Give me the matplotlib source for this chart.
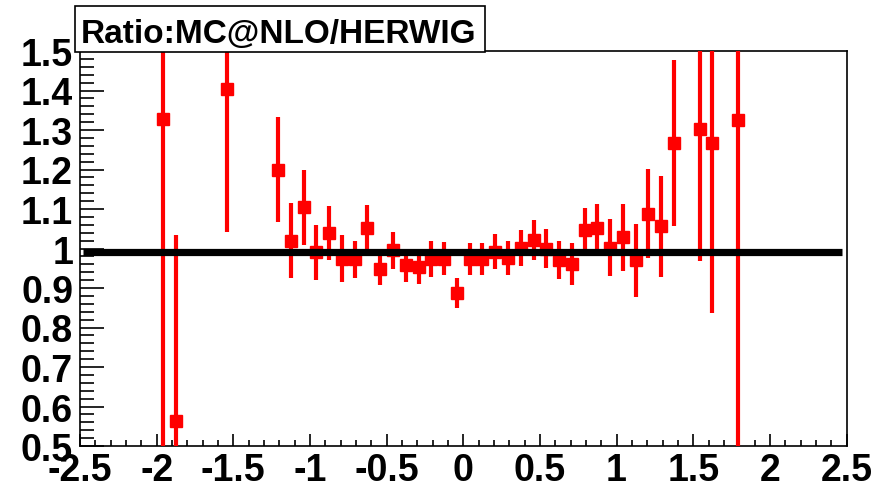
import numpy as np
import matplotlib
matplotlib.use("Agg")
import matplotlib.pyplot as plt
from matplotlib.patches import Rectangle
from matplotlib.ticker import MultipleLocator, FixedLocator

# ---- data ----
title = "Ratio:MC@NLO/HERWIG"
n_bins = 60
x_lo, x_hi = -2.5, 2.5
bin_index = [6, 7, 11, 15, 16, 17, 18, 19, 20, 21, 22, 23, 24, 25, 26, 27, 28, 29,
             30, 31, 32, 33, 34, 35, 36, 37, 38, 39, 40, 41, 42, 43, 44, 45, 46,
             48, 49, 51]
ratio = [1.328, 0.564, 1.404, 1.200, 1.020, 1.104, 0.990, 1.039, 0.974, 0.973,
         1.052, 0.948, 0.995, 0.958, 0.954, 0.974, 0.974, 0.887, 0.973, 0.973,
         0.992, 0.975, 1.001, 1.022, 1.000, 0.971, 0.960, 1.046, 1.052, 1.002,
         1.028, 0.970, 1.088, 1.056, 1.267, 1.302, 1.267, 1.326]
ratio_err = [0.95, 0.470, 0.363, 0.134, 0.095, 0.095, 0.070, 0.069, 0.060, 0.047,
             0.057, 0.040, 0.047, 0.042, 0.043, 0.045, 0.042, 0.038, 0.040, 0.040,
             0.045, 0.043, 0.046, 0.050, 0.050, 0.049, 0.053, 0.056, 0.060, 0.072,
             0.085, 0.092, 0.112, 0.128, 0.210, 0.333, 0.430, 1.000]
ref_level = 0.99
y_ticks = [0.5, 0.6, 0.7, 0.8, 0.9, 1.0, 1.1, 1.2, 1.3, 1.4, 1.5]
y_tick_labels = ["0.5", "0.6", "0.7", "0.8", "0.9", "1", "1.1", "1.2", "1.3", "1.4", "1.5"]
x_ticks = [-2.5, -2, -1.5, -1, -0.5, 0, 0.5, 1, 1.5, 2, 2.5]
x_tick_labels = ["-2.5", "-2", "-1.5", "-1", "-0.5", "0", "0.5", "1", "1.5", "2", "2.5"]

width = (x_hi - x_lo) / n_bins
xc = x_lo + (np.array(bin_index) + 0.5) * width

W, H = 884, 489
fig = plt.figure(figsize=(W / 100, H / 100), dpi=100)
ax = fig.add_axes([80 / W, 1 - 447 / H, (846.5 - 80) / W, (447 - 52) / H])

ax.errorbar(xc, ratio, yerr=ratio_err, fmt="s", color="#ff0000", ms=8,
            elinewidth=3.0, capsize=0, zorder=3, clip_on=True)
ax.plot([-2.48, 2.47], [ref_level, ref_level], color="black", lw=5.2,
        solid_capstyle="butt", zorder=4)

ax.set_xlim(x_lo, x_hi)
ax.set_ylim(0.5, 1.5)

font = dict(family="Liberation Sans", weight="bold")
ax.xaxis.set_major_locator(FixedLocator(x_ticks))
ax.set_xticklabels(x_tick_labels, fontsize=27, **font)
ax.xaxis.set_minor_locator(MultipleLocator(0.1))
ax.yaxis.set_major_locator(FixedLocator(y_ticks))
ax.set_yticklabels(y_tick_labels, fontsize=27, **font)
ax.yaxis.set_minor_locator(MultipleLocator(0.02))

ax.tick_params(axis="x", which="major", direction="in", length=9, width=1.2, pad=4)
ax.tick_params(axis="x", which="minor", direction="in", length=4.5, width=1.2)
ax.tick_params(axis="y", which="major", direction="in", length=17, width=1.2, pad=5)
ax.tick_params(axis="y", which="minor", direction="in", length=10, width=1.2)
ax.tick_params(top=False, right=False, which="both")
for s in ax.spines.values():
    s.set_linewidth(1.2)

# title box
rect = Rectangle((75 / W, 1 - 53 / H), 410 / W, 46 / H, transform=fig.transFigure,
                 facecolor="white", edgecolor="black", lw=1.2, zorder=10)
fig.add_artist(rect)
fig.text(81 / W, 1 - 43.5 / H, title, fontsize=24, va="baseline", ha="left",
         zorder=11, **font)

fig.savefig("out.png", dpi=100)
